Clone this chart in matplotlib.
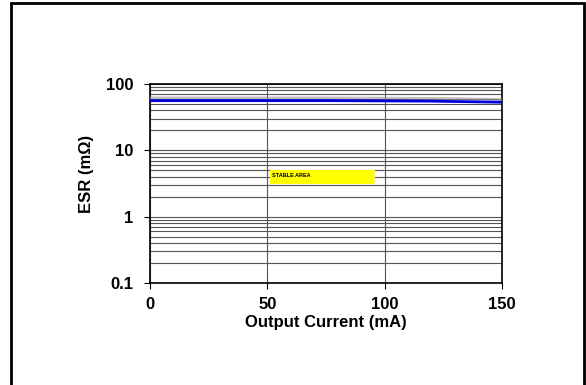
import numpy as np
import matplotlib
matplotlib.use("Agg")
import matplotlib.pyplot as plt
import matplotlib.patheffects as pe
from matplotlib.patches import Rectangle

plt.rcParams['font.family'] = ['Liberation Sans', 'DejaVu Sans']

# data
current = [0, 25, 50, 75, 100, 120, 135, 150]
esr = [56, 56, 56, 56, 55.5, 55, 54, 53]
stable_x = (51, 96)
stable_y = (3.1, 5.0)
x_ticks = [0, 50, 100, 150]
y_ticks = [0.1, 1, 10, 100]
y_ticklabels = ["0.1", "1", "10", "100"]

fig = plt.figure(figsize=(5.86, 3.85), dpi=100)
ax = fig.add_axes([0.256, 0.265, 0.601, 0.517])

ax.set_yscale('log')
ax.set_xlim(0, 150)
ax.set_ylim(0.1, 100)

# horizontal grid for every minor step, vertical at the majors
ax.grid(True, which='both', axis='y', color='#555555', lw=0.8)
ax.grid(True, which='major', axis='x', color='#555555', lw=0.8)
ax.set_axisbelow(True)

ax.set_xticks(x_ticks)
ax.set_xticklabels([str(t) for t in x_ticks], fontsize=12, fontweight='bold')
ax.set_yticks(y_ticks)
ax.set_yticklabels(y_ticklabels, fontsize=12, fontweight='bold')
ax.tick_params(axis='x', which='major', direction='out', length=4, width=0.8, pad=6)
ax.tick_params(axis='y', which='major', direction='out', length=4, width=0.8, pad=8)
ax.tick_params(axis='y', which='minor', left=False)
for s in ax.spines.values():
    s.set_linewidth(1.2)
    s.set_color('black')

ax.add_patch(Rectangle((stable_x[0], stable_y[0]), stable_x[1] - stable_x[0],
                       stable_y[1] - stable_y[0], facecolor='#ffff00',
                       edgecolor='none', zorder=3))
ax.text(stable_x[0] + 0.8, np.sqrt(stable_y[0] * stable_y[1]) * 1.05, "STABLE AREA",
        fontsize=4, fontweight='bold', va='center', ha='left', zorder=4)

ax.plot(current, esr, color='#0000dd', lw=2, zorder=5,
        path_effects=[pe.SimpleLineShadow(offset=(0, 2), shadow_color='#999999', alpha=0.6),
                      pe.Normal()])

ax.set_xlabel("Output Current (mA)", fontsize=12, fontweight='bold', labelpad=2)
ax.set_ylabel("ESR (mΩ)", fontsize=12, fontweight='bold')
ax.yaxis.set_label_coords(-0.158, 0.548)

# outer frame round the whole picture
fig.add_artist(Rectangle((11 / 586, -0.01), 573 / 586, 1.0 - 3 / 385 + 0.01,
                         transform=fig.transFigure, fill=False,
                         edgecolor='black', lw=2))

fig.savefig("out.png", dpi=100)
